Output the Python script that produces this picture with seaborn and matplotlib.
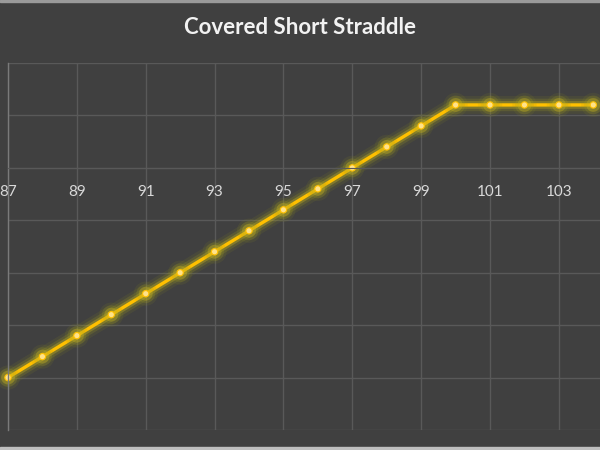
import matplotlib
matplotlib.use("Agg")
import matplotlib.pyplot as plt
import matplotlib.patheffects as pe
from matplotlib.patches import Rectangle
import seaborn as sns
import pandas as pd

# stock price at expiry vs profit/loss
precos = [87, 88, 89, 90, 91, 92, 93, 94, 95, 96, 97, 98, 99, 100, 101, 102, 103, 104]
lucro = [-20, -18, -16, -14, -12, -10, -8, -6, -4, -2, 0, 2, 4, 6, 6, 6, 6, 6]
xticks = [87, 89, 91, 93, 95, 97, 99, 101, 103]

tabela = pd.DataFrame({"preco": precos, "lucro": lucro})

sns.set_style("dark")
plt.rcParams["font.family"] = ["Lato", "DejaVu Sans"]

fundo = "#404040"
grade = "#595959"

fig = plt.figure(figsize=(6, 4.5), dpi=100, facecolor=fundo)
ax = fig.add_axes([8 / 600, 20 / 450, 18 * 34.43 / 600, 367 / 450])
ax.set_facecolor(fundo)

sns.lineplot(data=tabela, x="preco", y="lucro", ax=ax, color="#FFC000",
             linewidth=2.4, marker="o", markersize=4.5,
             markerfacecolor="#FFE28A", markeredgecolor="#FFC000",
             markeredgewidth=0.8, clip_on=False,
             path_effects=[pe.Stroke(linewidth=13, foreground="#8C8C1E", alpha=0.12),
                           pe.Stroke(linewidth=9, foreground="#A6A020", alpha=0.2),
                           pe.Stroke(linewidth=5.5, foreground="#C8B420", alpha=0.35),
                           pe.Normal()])

ax.set_xlim(87, 105)
ax.set_ylim(-25, 10)
ax.set_xticks(xticks)
ax.set_yticks(range(-25, 11, 5))
ax.set_yticklabels([])
ax.grid(True, color=grade, linewidth=1)
ax.set_axisbelow(True)

for s in ["top", "right"]:
    ax.spines[s].set_visible(False)
ax.spines["left"].set_color("#7A7A7A")
ax.spines["left"].set_linewidth(1)
ax.spines["bottom"].set_position(("data", 0))
ax.spines["bottom"].set_color(grade)
ax.tick_params(axis="x", length=0, pad=12, labelsize=11, labelcolor="#D9D9D9")
ax.tick_params(axis="y", length=0)
ax.set_xlabel("")
ax.set_ylabel("")

fig.text(0.5, 1 - 28 / 450, "Covered Short Straddle", ha="center", va="center",
         fontsize=16, fontweight="bold", color="#F2F2F2")

# light frame strips at top and bottom edges
fig.add_artist(Rectangle((0, 0), 1, 3 / 450, transform=fig.transFigure,
                         color="#BFBFBF", zorder=10))
fig.add_artist(Rectangle((0, 1 - 2 / 450), 1, 2 / 450, transform=fig.transFigure,
                         color="#9A9A9A", zorder=10))

fig.savefig("out.png", dpi=100, facecolor=fundo)
